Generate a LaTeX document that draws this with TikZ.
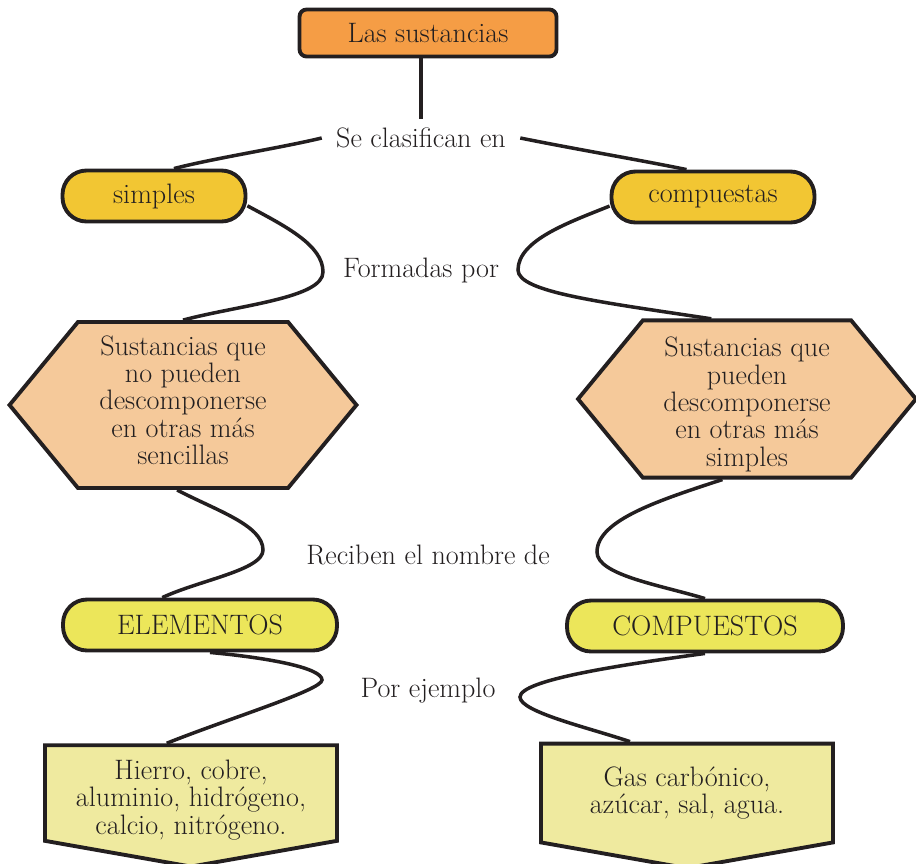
\documentclass[tikz,border=0pt]{standalone}
\usepackage{tikz}
\usetikzlibrary{shapes,shapes.symbols,arrows,backgrounds,positioning}

\definecolor{Naranja}{HTML}{F59D45}
\definecolor{Amarillo}{HTML}{F2C633}
\definecolor{Durazno}{HTML}{F5C99A}
\definecolor{Limon}{HTML}{ECE65A}
\definecolor{Crema}{HTML}{EFEA9F}
\definecolor{Tinta}{HTML}{231F20}

\begin{document}
\begin{tikzpicture}[x=0.02cm, y=-0.02cm]
	\tikzstyle{Base}	= [draw=Tinta, line width=2.2pt, text=Tinta, align=center, font=\fontsize{16}{15.6}\selectfont]
	\tikzstyle{Title}	= [Base, rectangle, rounded corners=4pt, fill=Naranja, minimum width=5.14cm, minimum height=0.94cm]
	\tikzstyle{Pill}	= [Base, rectangle, rounded corners=0.48cm, minimum height=1.02cm]
	\tikzstyle{Hexa}	= [Base, signal, signal to=east and west, signal pointer angle=101, fill=Durazno, minimum width=6.94cm, minimum height=3.32cm]
	\tikzstyle{Example}	= [Base, signal, signal to=south, signal from=nowhere, signal pointer angle=160, fill=Crema, inner ysep=0pt, minimum width=5.84cm, minimum height=2.34cm]
	\tikzstyle{Label}	= [text=Tinta, inner xsep=8pt, inner ysep=5pt, font=\fontsize{16}{15.6}\selectfont]
	\tikzstyle{Link}	= [draw=Tinta, line width=2pt]

	\useasboundingbox (0,0) rectangle (916,863);

	\node (top) at (428,33) [Title] {Las sustancias};
	\node (simp) at (154,196) [Pill][fill=Amarillo, minimum width=3.66cm] {simples};
	\node (comp) at (713,197) [Pill][fill=Amarillo, minimum width=4.06cm] {compuestas};
	\node (hexS) at (183,405) [Hexa] {Sustancias que\\no pueden\\descomponerse\\en otras más\\sencillas\rule[-5.6pt]{0pt}{5.6pt}};
	\node (hexC) at (747,399) [Hexa][minimum width=6.76cm, minimum height=3.08cm] {\rule{0pt}{17.3pt}Sustancias que\\pueden\\descomponerse\\en otras más\\simples};
	\node (elem) at (200,625) [Pill][fill=Limon, minimum width=5.48cm] {ELEMENTOS};
	\node (cmps) at (705,626) [Pill][fill=Limon, minimum width=5.52cm] {COMPUESTOS};
	\node (exS) at (191,793) [Example] {\rule{0pt}{19pt}Hierro, cobre,\\aluminio, hidrógeno,\\calcio, nitrógeno.};
	\node (exC) at (687,793) [Example] {Gas carbónico,\\azúcar, sal, agua.};

	\node (l1) at (421,138) [Label] {Se clasifican en};
	\node (l2) at (421,270) [Label] {Formadas por};
	\node (l3) at (428,555) [Label] {Reciben el nombre de};
	\node (l4) at (428,691) [Label] {Por ejemplo};

	\begin{pgfonlayer}{background}
	\draw [Link] (top.south -| l1) -- (l1);
	\draw [Link] (l1.west) .. controls (280,148) and (215,158) .. (simp.54);
	\draw [Link] (l1.east) .. controls (580,150) and (640,160) .. (comp.134);
	\draw [Link] (simp.-6) .. controls (285,226) and (323,245) .. (323,272) .. controls (323,298) and (240,305) .. (hexS.north);
	\draw [Link] (comp.185) .. controls (570,222) and (518,240) .. (518,270) .. controls (518,292) and (600,302) .. (hexC.114);
	\draw [Link] (hexS.266) .. controls (215,510) and (263,525) .. (263,550) .. controls (263,570) and (200,580) .. (elem.144);
	\draw [Link] (hexC.253) .. controls (660,500) and (597,520) .. (597,552) .. controls (597,575) and (660,585) .. (cmps.north);
	\draw [Link] (elem.-70) .. controls (270,658) and (322,668) .. (322,680) .. controls (322,690) and (230,718) .. (exS.116);
	\draw [Link] (cmps.south) .. controls (620,665) and (520,680) .. (520,697) .. controls (520,712) and (590,728) .. (exC.138);
	\end{pgfonlayer}
\end{tikzpicture}
\end{document}
